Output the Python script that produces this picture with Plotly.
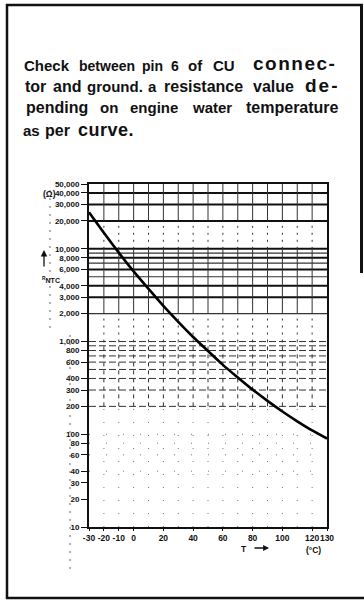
import plotly.graph_objects as go

# NTC sensor characteristic: resistance vs. coolant temperature
temperature_c = [-30, -20, -10, 0, 10, 20, 30, 40, 50, 60, 70, 80, 90, 100, 110, 120, 130]
resistance_ohm = [24800, 14900, 9100, 5700, 3700, 2420, 1630, 1120, 790, 560, 410, 303, 229, 176, 138, 110, 90]

# axis ticks
x_ticks = [-30, -20, -10, 0, 20, 40, 60, 80, 100, 120, 130]
y_ticks = [10, 20, 30, 40, 60, 80, 100, 200, 300, 400, 600, 800,
           1000, 2000, 3000, 4000, 6000, 8000, 10000, 20000, 30000, 40000, 50000]

# grid of the log paper
t_grid = [-20, -10, 0, 10, 20, 30, 40, 50, 60, 70, 80, 90, 100, 110, 120]
r_grid_heavy = [40000, 30000, 20000, 10000, 8000, 6000, 4000, 3000]
r_grid_medium = [9000, 7000, 5000, 2000]
r_grid_dashed = [1000, 900, 800, 700, 600, 500, 400, 300, 200]
r_grid_dotted = [100, 80, 60, 40]

W, H = 364, 601
X_MIN, X_MAX = -30, 130
FONT = "Liberation Sans, Arial, sans-serif"


def px(x):
    return x / W


def py(y):
    return 1 - y / H


def hsegments(values):
    xs, ys = [], []
    for v in values:
        xs += [X_MIN, X_MAX, None]
        ys += [v, v, None]
    return xs, ys


def vsegments(values, lo, hi):
    xs, ys = [], []
    for v in values:
        xs += [v, v, None]
        ys += [lo, hi, None]
    return xs, ys


fig = go.Figure()

# horizontal grid
for vals, width, dash, color in [
    (r_grid_heavy, 2.0, "solid", "#111"),
    (r_grid_medium, 1.2, "solid", "#333"),
    (r_grid_dashed, 1.0, "7px,3px", "#333"),
    (r_grid_dotted, 1.0, "1px,16px", "#777"),
]:
    xs, ys = hsegments(vals)
    fig.add_trace(go.Scatter(x=xs, y=ys, mode="lines", hoverinfo="skip",
                             line=dict(color=color, width=width, dash=dash),
                             showlegend=False))

# vertical grid, styled by band
for lo, hi, width, dash, color in [
    (20000, 50000, 1.0, "solid", "#333"),
    (10000, 20000, 1.0, "2px,5px", "#333"),
    (2000, 10000, 1.0, "solid", "#333"),
    (1000, 2000, 1.0, "2px,5px", "#333"),
    (200, 1000, 1.0, "4px,4px", "#333"),
    (10, 200, 1.0, "1px,12px", "#777"),
]:
    xs, ys = vsegments(t_grid, lo, hi)
    fig.add_trace(go.Scatter(x=xs, y=ys, mode="lines", hoverinfo="skip",
                             line=dict(color=color, width=width, dash=dash),
                             showlegend=False))

# characteristic curve
fig.add_trace(go.Scatter(x=temperature_c, y=resistance_ohm, mode="lines",
                         line=dict(color="black", width=2.6, shape="spline", smoothing=0.8),
                         showlegend=False))

fig.update_xaxes(
    range=[X_MIN, X_MAX], showgrid=False, zeroline=False, automargin=False,
    tickmode="array", tickvals=x_ticks, ticktext=[f"<b>{v}</b>" for v in x_ticks],
    tickangle=0, ticks="outside", ticklen=2, tickwidth=1.2, tickcolor="#111",
    showline=True, linewidth=2, linecolor="#111", mirror=True,
    tickfont=dict(family=FONT, size=8.5, color="#111"),
)
fig.update_yaxes(
    type="log", range=[1, 4.69897], showgrid=False, zeroline=False, automargin=False,
    tickmode="array", tickvals=y_ticks, ticktext=[f"<b>{v:,}</b>" for v in y_ticks],
    ticks="outside", ticklen=6, tickwidth=1.4, tickcolor="#111",
    showline=True, linewidth=2, linecolor="#111", mirror=True,
    tickfont=dict(family=FONT, size=8, color="#111"),
)

# paragraph text, word by word (justified block): word, left px, right px, size, letter spacing
paragraph = [
    (72.5, [("Check", 23, 70, 15, 0), ("between", 80, 133, 14, 0), ("pin", 142, 163, 14, 0),
            ("6", 172, 178, 14, 0), ("of", 188, 203, 15, 0), ("CU", 213, 235, 15, 0),
            ("connec-", 245, 343, 19, 1.5)]),
    (94, [("tor", 23, 47, 16, 0), ("and", 50, 83, 16, 0), ("ground.", 88, 142, 15, 0),
          ("a", 148, 157, 15, 0), ("resistance", 162, 245, 16, 0), ("value", 252, 295, 16, 0),
          ("de-", 302, 343, 19, 2)]),
    (115, [("pending", 23, 90, 16, 0), ("on", 100, 117, 15, 0), ("engine", 128, 180, 15, 0),
           ("water", 190, 233, 15, 0), ("temperature", 242, 343, 16, 0)]),
    (138, [("as", 23, 40, 15, 0), ("per", 45, 70, 16, 0), ("curve.", 75, 137, 18, 0.5)]),
]

annotations = []
for baseline, words in paragraph:
    for word, x0, x1, size, spacing in words:
        label = f"<b>{word}</b>"
        if spacing:
            label = f'<span style="letter-spacing:{spacing}px">{label}</span>'
        annotations.append(dict(
            text=label, x=px((x0 + x1) / 2), y=py(baseline - 0.35 * size - 2),
            xref="paper", yref="paper", xanchor="center", yanchor="middle",
            showarrow=False, font=dict(family=FONT, size=size, color="#111")))

label_font = dict(family=FONT, size=8.5, color="#111")
annotations += [
    dict(text="<b>(Ω)</b>", x=px(41), y=py(187), xref="paper", yref="paper",
         showarrow=False, font=label_font),
    dict(text="", x=px(44), y=py(250), xref="paper", yref="paper",
         showarrow=True, ax=0, ay=18, arrowhead=2, arrowsize=1, arrowwidth=1.3,
         arrowcolor="#111"),
    dict(text="<b><sup>R</sup>NTC</b>", x=px(40), y=py(280), xref="paper", yref="paper",
         showarrow=False, font=dict(family=FONT, size=7, color="#111")),
    dict(text="<b>T</b>", x=px(249), y=py(549), xref="paper", yref="paper",
         yanchor="middle", showarrow=False, font=label_font),
    dict(text="", x=px(269), y=py(548), xref="paper", yref="paper",
         showarrow=True, ax=-16, ay=0, arrowhead=2, arrowsize=0.9, arrowwidth=1.3,
         arrowcolor="#111"),
    dict(text="<b>(°C)</b>", x=px(323), y=py(550), xref="paper", yref="paper",
         yanchor="middle", showarrow=False, font=label_font),
]

# page frame and stray dotted rulings of the sheet
shapes = [
    dict(type="line", xref="paper", yref="paper", x0=px(6), x1=px(363), y0=py(5), y1=py(5),
         line=dict(color="#111", width=2.5)),
    dict(type="line", xref="paper", yref="paper", x0=px(7), x1=px(7), y0=py(4), y1=py(599),
         line=dict(color="#111", width=2.5)),
    dict(type="line", xref="paper", yref="paper", x0=px(6), x1=px(364), y0=py(598), y1=py(598),
         line=dict(color="#111", width=2.5)),
    dict(type="line", xref="paper", yref="paper", x0=px(361.5), x1=px(361.5), y0=py(4), y1=py(273),
         line=dict(color="#111", width=3)),
    dict(type="line", xref="paper", yref="paper", x0=px(50), x1=px(50), y0=py(190), y1=py(330),
         line=dict(color="#666", width=1, dash="2px,6px")),
    dict(type="line", xref="paper", yref="paper", x0=px(70), x1=px(70), y0=py(335), y1=py(575),
         line=dict(color="#666", width=1, dash="2px,6px")),
]

fig.update_layout(
    width=W, height=H, autosize=False,
    margin=dict(l=0, r=0, t=0, b=0),
    paper_bgcolor="white", plot_bgcolor="white",
    xaxis=dict(domain=[px(89), px(327)]),
    yaxis=dict(domain=[py(527), py(184)]),
    annotations=annotations, shapes=shapes,
)

fig.write_html("out.html")
